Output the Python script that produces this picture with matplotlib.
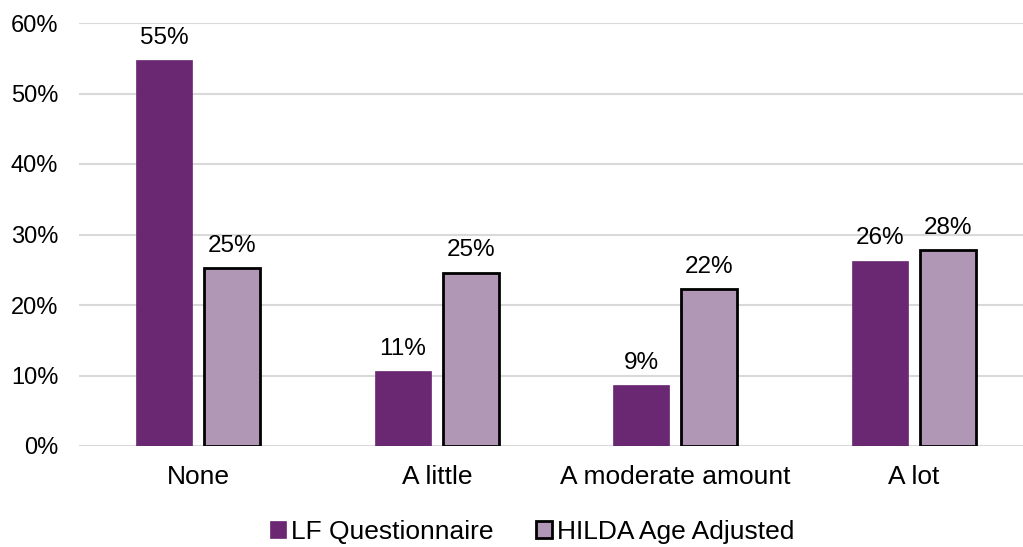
import matplotlib
matplotlib.use("Agg")
import matplotlib.pyplot as plt
import numpy as np
from matplotlib.ticker import PercentFormatter

plt.rcParams['font.family'] = ['Liberation Sans', 'DejaVu Sans']

categories = ["None", "A little", "A moderate amount", "A lot"]
lf_questionnaire = [54.7, 10.6, 8.7, 26.3]
hilda_age_adjusted = [25.3, 24.6, 22.2, 27.8]
series_names = ["LF Questionnaire", "HILDA Age Adjusted"]
yticks = [0, 10, 20, 30, 40, 50, 60]

c_lf = "#6A2872"
c_hilda = "#B197B6"

fig = plt.figure(figsize=(10.23, 5.47), dpi=100)
ax = fig.add_axes([79/1023, 1-446/547, (1033-79)/1023, (446-23)/547])

x = np.arange(len(categories))
w = 0.235
gap = 0.05
b1 = ax.bar(x - (w+gap)/2, lf_questionnaire, w, color=c_lf, edgecolor=c_lf, linewidth=0.5, zorder=3)
b2 = ax.bar(x + (w+gap)/2, hilda_age_adjusted, w, color=c_hilda, edgecolor="black", linewidth=2, zorder=3)

for bars in (b1, b2):
    for r in bars:
        h = r.get_height()
        ax.annotate(f"{h:.0f}%", (r.get_x() + r.get_width()/2, h), xytext=(0, 8),
                    textcoords="offset points", ha="center", va="bottom", fontsize=17.5)

ax.set_xlim(-0.5, len(categories) - 0.5)
ax.set_ylim(0, 60)
ax.set_yticks(yticks)
ax.yaxis.set_major_formatter(PercentFormatter(decimals=0))
ax.set_xticks(x)
ax.set_xticklabels(categories)
ax.tick_params(axis='both', length=0)
ax.tick_params(axis='y', pad=15, labelsize=17)
ax.tick_params(axis='x', pad=14, labelsize=19)
ax.grid(axis='y', color="#D9D9D9", linewidth=1.5, zorder=0)
for s in ax.spines.values():
    s.set_visible(False)

leg = fig.legend([b1, b2], series_names, loc="center", bbox_to_anchor=(532/1023, 1-532/547),
                 ncol=2, frameon=False, fontsize=19, handlelength=0.6, handleheight=0.6,
                 handletextpad=0.2, columnspacing=1.6)

fig.savefig("out.png", dpi=100)
